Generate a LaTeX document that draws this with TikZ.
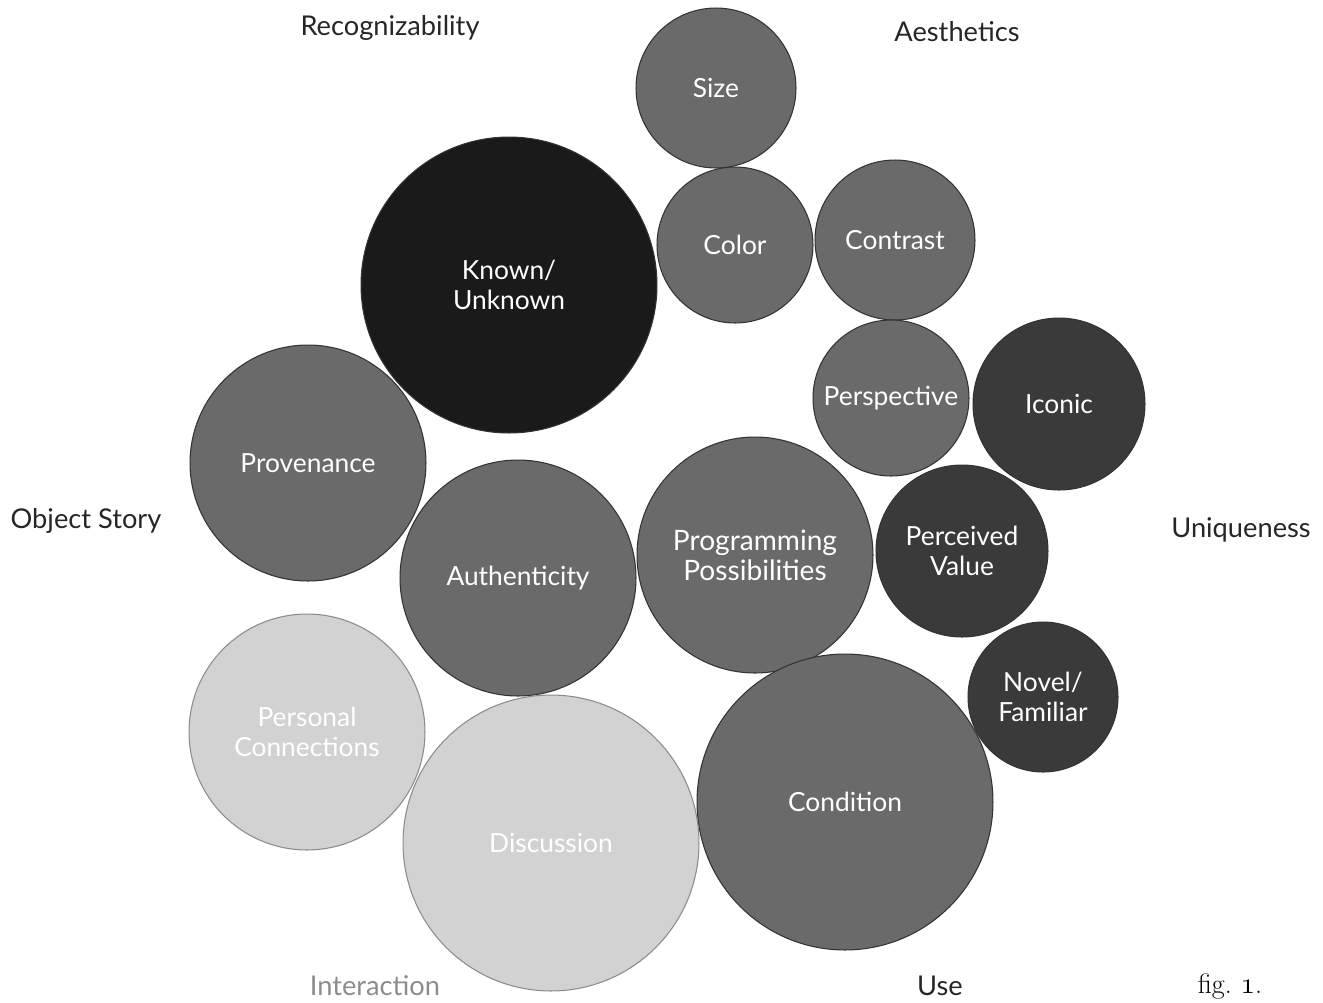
\documentclass[tikz,border=0pt]{standalone}
\usepackage{fontspec}
\setsansfont{Lato}
\usetikzlibrary{positioning}

\definecolor{inkdark}{HTML}{1A1A1A}
\definecolor{inkdeep}{HTML}{3A3A3A}
\definecolor{inkmid}{HTML}{6A6A6A}
\definecolor{inklight}{HTML}{D2D2D2}

% old-style figure from the cmm font
\newcommand{\osone}{{\usefont{OML}{cmm}{m}{it}1}}

\tikzset{
  bubble/.style={circle, draw=black!80, line width=0.6pt, inner sep=0pt,
    text=white, align=center, font=\sffamily\fontsize{15}{17}\selectfont},
  dark/.style={bubble, fill=inkdark},
  deep/.style={bubble, fill=inkdeep},
  mid/.style={bubble, fill=inkmid},
  pale/.style={bubble, fill=inklight, draw=black!45},
  axis/.style={font=\sffamily\fontsize{15.5}{17}\selectfont, text=black!85, inner sep=1pt},
}

\begin{document}
\begin{tikzpicture}[x=0.02cm, y=-0.02cm]
\useasboundingbox (0,0) rectangle (1323,1002);

% aesthetics cluster
\node[mid, minimum size=3.2cm] (size) at (716,88) {Size};
\node[mid, minimum size=3.12cm] (color) at (735,245) {Color};
\node[mid, minimum size=3.2cm] (contrast) at (895,240) {Contrast};
\node[dark, minimum size=5.92cm] (known) at (509,285) {Known/\\Unknown};

% uniqueness cluster
\node[mid, minimum size=3.12cm] (persp) at (891,398) {Perspective};
\node[deep, minimum size=3.44cm] (iconic) at (1059,404) {Iconic};
\node[deep, minimum size=3.44cm] (value) at (962,551) {Perceived\\Value};
\node[deep, minimum size=3.0cm] (novel) at (1043,697) {Novel/\\Familiar};

% object story / use
\node[mid, minimum size=4.72cm] (prov) at (308,463) {Provenance};
\node[mid, minimum size=4.72cm] (auth) at (518,578) {Authenticity};
\node[mid, minimum size=4.72cm, font=\sffamily\fontsize{16}{17}\selectfont] (prog) at (755,555) {Programming\\Possibilities};
\node[mid, minimum size=5.92cm] (cond) at (845,802) {Condition};

% interaction
\node[pale, minimum size=4.72cm] (pers) at (307,732) {Personal\\Connections};
\node[pale, minimum size=5.92cm] (disc) at (551,843) {Discussion};

% category labels
\node[axis] (recog) at (390,28) {Recognizability};
\node[axis] (aesth) at (957,32) {Aesthetics};
\node[axis] (story) at (86,521) {Object Story};
\node[axis] (uniq) at (1241,530) {Uniqueness};
\node[axis, text=black!45] (inter) at (375,986) {Interaction};
\node[axis] (use) at (940,986) {Use};
\node[font=\fontsize{16}{18}\selectfont] (fig) at (1230,986) {fig.\ \osone.};
\end{tikzpicture}
\end{document}
